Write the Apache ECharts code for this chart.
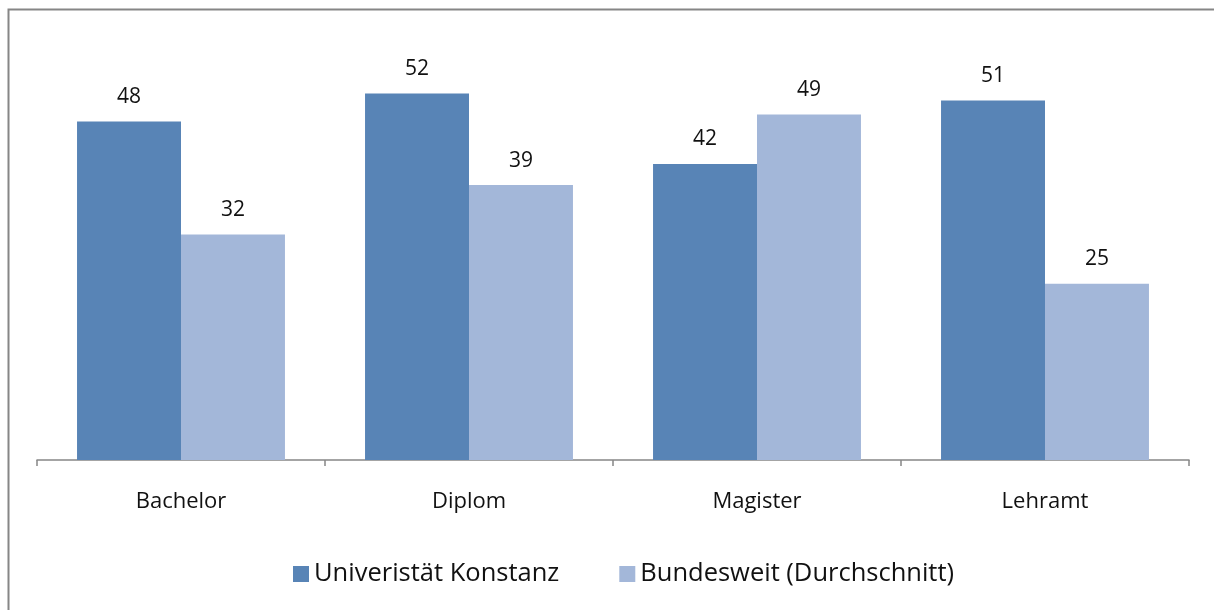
<!DOCTYPE html>
<html>
<head>
<meta charset="utf-8">
<script src="https://cdn.jsdelivr.net/npm/echarts@6/dist/echarts.min.js"></script>
<style>
  html, body { margin: 0; padding: 0; background: #fff; }
  #main { width: 1214px; height: 610px; }
</style>
</head>
<body>
<div id="main"></div>
<script>
var categories = ['Bachelor', 'Diplom', 'Magister', 'Lehramt'];
var konstanz = [48, 52, 42, 51];
var bundesweit = [32, 39, 49, 25];
var seriesNames = ['Univeristät Konstanz', 'Bundesweit (Durchschnitt)'];
var colors = ['#5884b6', '#a3b7d9'];

var font = 'Open Sans';
var myChart = echarts.init(document.getElementById('main'));

var option = {
    backgroundColor: '#fff',
    color: colors,
    textStyle: { fontFamily: font },
    // chart-area frame: only left and top edges are inside the picture
    graphic: [{
        type: 'polyline',
        shape: { points: [[8.5, 620], [8.5, 9.5], [1230, 9.5]] },
        style: { fill: null, stroke: '#868686', lineWidth: 2 },
        silent: true
    }],
    grid: {
        left: 37,
        right: 25,
        top: 37,
        bottom: 150,
        containLabel: false
    },
    legend: {
        bottom: 18,
        left: 288,
        itemWidth: 16,
        itemHeight: 16,
        itemGap: 60,
        icon: 'rect',
        textStyle: { fontFamily: font, fontSize: 25.5, color: '#111' },
        data: seriesNames
    },
    xAxis: {
        type: 'category',
        data: categories,
        axisLine: { lineStyle: { color: '#868686', width: 1.5 } },
        axisTick: { show: true, length: 6, alignWithLabel: false, lineStyle: { color: '#868686', width: 1.5 } },
        axisLabel: { fontFamily: font, fontSize: 22, color: '#111', margin: 31 }
    },
    yAxis: {
        type: 'value',
        min: 0,
        max: 60,
        show: false,
        splitLine: { show: false }
    },
    series: [{
        name: seriesNames[0],
        type: 'bar',
        data: konstanz,
        barGap: '0%',
        barCategoryGap: '27.8%',
        label: { show: true, position: 'top', distance: 14, fontFamily: font, fontSize: 21, color: '#111' }
    }, {
        name: seriesNames[1],
        type: 'bar',
        data: bundesweit,
        label: { show: true, position: 'top', distance: 14, fontFamily: font, fontSize: 21, color: '#111' }
    }]
};

myChart.setOption(option);
</script>
</body>
</html>
